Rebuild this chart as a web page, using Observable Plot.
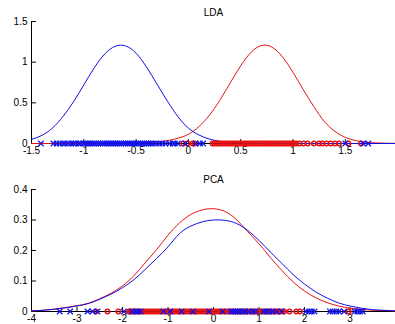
<!DOCTYPE html>
<html>
<head>
<meta charset="utf-8">
<script src="https://cdn.jsdelivr.net/npm/d3@7"></script>
<script src="https://cdn.jsdelivr.net/npm/@observablehq/plot@0.6"></script>
<style>
  html, body { margin: 0; padding: 0; background: #fff; overflow: hidden; }
  #chart svg { display: block; }
</style>
</head>
<body>
<div id="chart"></div>
<script>
// ---------- LDA panel data ----------
const ldaTitle = "LDA";
const ldaGridX = [-1.5,-1.4,-1.3,-1.2,-1.1,-1.0,-0.9,-0.8,-0.7,-0.6,-0.5,-0.4,-0.3,-0.2,-0.1,0,0.1,0.2,0.3,0.4,0.5,0.6,0.7,0.8,0.9,1.0,1.1,1.2,1.3,1.4,1.5,1.6,1.7,1.8,1.9,1.98];
const ldaBlueCurve = [0.05,0.10,0.19,0.33,0.51,0.72,0.93,1.10,1.195,1.20,1.11,0.94,0.73,0.52,0.33,0.19,0.105,0.055,0.027,0.012,0.005,0.002,0.001,0,0,0,0,0,0,0,0,0,0,0,0,0];
const ldaRedCurve = [0,0,0,0,0,0,0,0.001,0.002,0.004,0.007,0.012,0.02,0.035,0.065,0.113,0.207,0.346,0.531,0.745,0.956,1.122,1.205,1.184,1.064,0.875,0.658,0.452,0.27,0.15,0.075,0.035,0.015,0.007,0.003,0.002];
const ldaBlueMarks = [-1.41,-1.29,-1.26,-1.23,-1.2,-1.18,-1.15,-1.12,-1.1,-1.08,-1.05,-1.03,-1.0,-0.98,-0.96,-0.94,-0.92,-0.9,-0.88,-0.86,-0.84,-0.82,-0.8,-0.78,-0.76,-0.74,-0.72,-0.7,-0.68,-0.66,-0.64,-0.62,-0.6,-0.58,-0.56,-0.54,-0.52,-0.5,-0.48,-0.46,-0.44,-0.42,-0.4,-0.38,-0.36,-0.34,-0.31,-0.28,-0.25,-0.22,-0.18,-0.15,-0.13,-0.1,-0.03,0.07,0.11,0.14,1.5,1.67,1.72];
const ldaRedMarks = [-0.05,-0.01,0.04,0.06,0.23,0.25,0.27,0.29,0.31,0.33,0.35,0.37,0.39,0.41,0.43,0.45,0.47,0.49,0.51,0.53,0.55,0.57,0.59,0.61,0.63,0.65,0.67,0.69,0.71,0.73,0.75,0.77,0.79,0.81,0.83,0.85,0.87,0.89,0.91,0.93,0.95,0.97,0.99,1.01,1.03,1.06,1.1,1.14,1.2,1.25,1.28,1.32,1.36,1.4,1.44,1.53,1.65];
const ldaXTicks = [-1.5,-1,-0.5,0,0.5,1,1.5];
const ldaYTicks = [0,0.5,1,1.5];

// ---------- PCA panel data ----------
const pcaTitle = "PCA";
const pcaGridX = [-4,-3.75,-3.5,-3.25,-3,-2.75,-2.5,-2.25,-2,-1.75,-1.5,-1.25,-1,-0.75,-0.5,-0.25,0,0.25,0.5,0.75,1,1.25,1.5,1.75,2,2.25,2.5,2.75,3,3.25,3.5,3.75,4];
const pcaRedCurve = [0.002,0.004,0.008,0.013,0.019,0.027,0.042,0.060,0.084,0.117,0.160,0.203,0.250,0.290,0.318,0.333,0.337,0.328,0.302,0.262,0.222,0.177,0.135,0.097,0.067,0.045,0.029,0.018,0.011,0.007,0.004,0.003,0.002];
const pcaBlueCurve = [0.002,0.004,0.007,0.012,0.018,0.026,0.040,0.057,0.078,0.104,0.138,0.174,0.212,0.255,0.280,0.294,0.300,0.299,0.289,0.266,0.233,0.195,0.158,0.121,0.090,0.064,0.044,0.028,0.018,0.011,0.006,0.004,0.002];
const pcaBlueMarks = [-3.38,-3.15,-2.77,-2.66,-2.55,-1.97,-1.79,-1.72,-1.66,-1.6,-1.1,-0.95,-0.7,-0.45,-0.1,0.2,0.38,0.43,0.48,0.53,0.58,0.64,0.7,0.78,0.86,0.92,1.1,1.16,1.22,1.3,1.38,1.5,2.03,2.1,2.16,2.22,2.56,2.62,2.7,2.76,2.87,3.1,3.16,3.22,3.28];
const pcaRedMarks = [-2.58,-2.33,-2.09,-1.86,-1.83,-1.8,-1.75,-1.7,-1.65,-1.6,-1.55,-1.5,-1.45,-1.4,-1.35,-1.3,-1.25,-1.2,-1.15,-1.1,-1.05,-1.0,-0.95,-0.9,-0.85,-0.8,-0.75,-0.7,-0.65,-0.6,-0.55,-0.5,-0.45,-0.4,-0.35,-0.3,-0.25,-0.2,-0.15,-0.1,-0.05,0,0.05,0.1,0.15,0.2,0.25,0.3,0.35,0.4,0.45,0.5,0.55,0.6,0.65,0.7,0.75,0.8,0.85,0.9,0.95,1.0,1.05,1.1,1.15,1.2,1.25,1.3,1.35,1.4,1.45,1.5,1.55,1.67,1.82,1.9,2.97];
const pcaXTicks = [-4,-3,-2,-1,0,1,2,3];
const pcaYTicks = [0,0.1,0.2,0.3,0.4];

const BLUE = "#1010e8";
const RED = "#e81010";

// inward tick mark shape (MATLAB style)
const tickShape = { draw(ctx, l) { ctx.moveTo(0, 0); ctx.lineTo(0, -l); } };

function panel({title, gridX, blueCurve, redCurve, blueMarks, redMarks, xTicks, yTicks, xDomain, yDomain, marginTop, marginBottom, titleDy}) {
  const curve = gridX.map((x, i) => ({x, blue: blueCurve[i], red: redCurve[i]}));
  const fmt = d => String(d);
  return Plot.plot({
    width: 395,
    height: 162,
    marginLeft: 31,
    marginRight: 0,
    marginTop,
    marginBottom,
    style: {fontFamily: "'Liberation Sans', Arial, sans-serif", fontSize: "10px", color: "#000", background: "#fff"},
    x: {domain: xDomain, axis: null},
    y: {domain: yDomain, axis: null},
    marks: [
      Plot.axisX({ticks: xTicks, tickSize: 0, tickPadding: 3, tickFormat: fmt, fontSize: 10, label: null}),
      Plot.axisY({ticks: yTicks, tickSize: 0, tickPadding: 4, tickFormat: fmt, fontSize: 10, label: null}),
      Plot.ruleY([yDomain[0]], {stroke: "#000", strokeWidth: 1}),
      Plot.ruleX([xDomain[0]], {stroke: "#000", strokeWidth: 1}),
      Plot.vector(xTicks, {x: d => d, y: yDomain[0], length: 4, rotate: 0, anchor: "start", shape: tickShape, stroke: "#000", strokeWidth: 1}),
      Plot.vector(yTicks, {x: xDomain[0], y: d => d, length: 4, rotate: 90, anchor: "start", shape: tickShape, stroke: "#000", strokeWidth: 1}),
      Plot.line(curve, {x: "x", y: "red", stroke: RED, strokeWidth: 1, curve: "natural"}),
      Plot.line(curve, {x: "x", y: "blue", stroke: BLUE, strokeWidth: 1, curve: "natural"}),
      Plot.dot(redMarks, {x: d => d, y: yDomain[0], r: 2.2, stroke: RED, strokeWidth: 1.5, fill: "none"}),
      Plot.dot(blueMarks, {x: d => d, y: yDomain[0], r: 2.6, symbol: "times", stroke: BLUE, strokeWidth: 1.2}),
      Plot.text([title], {frameAnchor: "top", dy: titleDy, text: d => d, fontSize: 10, fill: "#000", lineAnchor: "middle"})
    ]
  });
}

const chart = document.getElementById("chart");
chart.appendChild(panel({
  title: ldaTitle, gridX: ldaGridX, blueCurve: ldaBlueCurve, redCurve: ldaRedCurve,
  blueMarks: ldaBlueMarks, redMarks: ldaRedMarks, xTicks: ldaXTicks, yTicks: ldaYTicks,
  xDomain: [-1.5, 1.98], yDomain: [0, 1.5], marginTop: 21, marginBottom: 19, titleDy: -9
}));
chart.appendChild(panel({
  title: pcaTitle, gridX: pcaGridX, blueCurve: pcaBlueCurve, redCurve: pcaRedCurve,
  blueMarks: pcaBlueMarks, redMarks: pcaRedMarks, xTicks: pcaXTicks, yTicks: pcaYTicks,
  xDomain: [-4, 4], yDomain: [0, 0.4], marginTop: 27, marginBottom: 13, titleDy: -10
}));
</script>
</body>
</html>
